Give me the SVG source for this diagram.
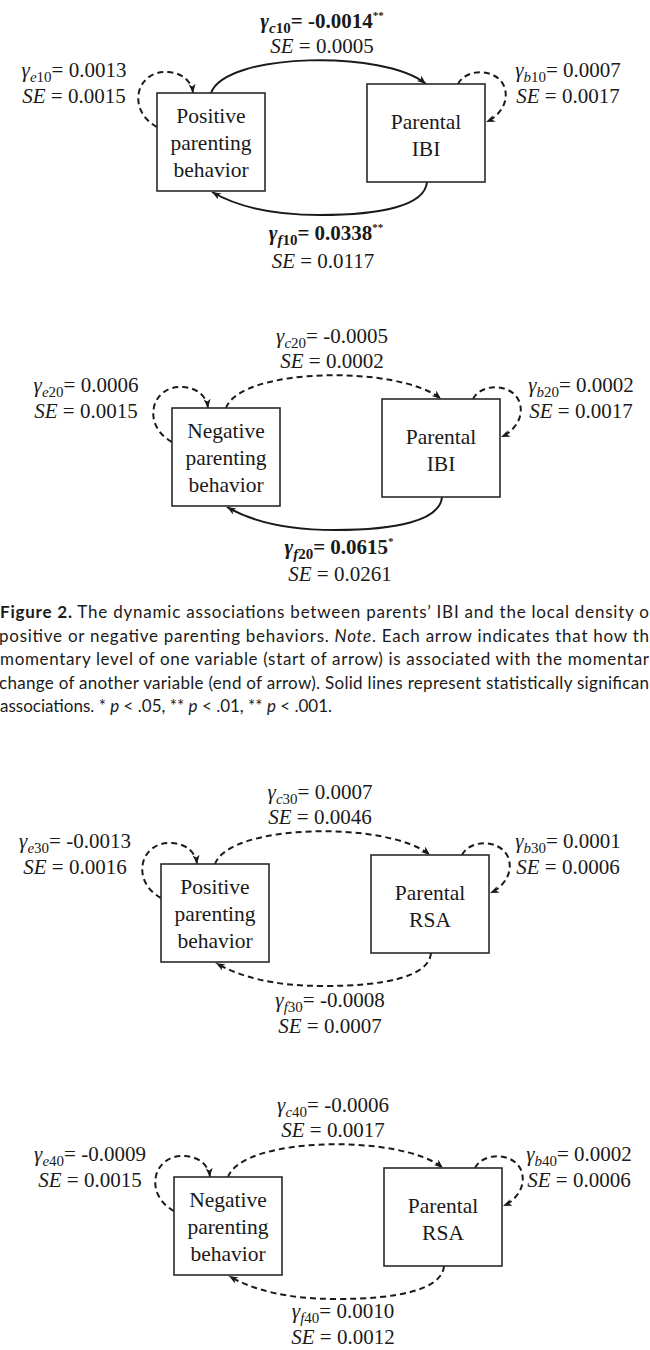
<svg xmlns="http://www.w3.org/2000/svg" width="650" height="1350" viewBox="0 0 650 1350">
<style>
.n{fill:#fff;stroke:#2a2a2a;stroke-width:1.6}
.t{font-family:"Liberation Serif","Times New Roman",serif;font-size:21px;fill:#1a1a1a;text-anchor:middle}
.bx{font-size:21.5px}
.it{font-style:italic}
.sub{font-size:15px}
.sup{font-size:11px}
.b{font-weight:bold}
.s{fill:none;stroke:#1a1a1a;stroke-width:2;marker-end:url(#ah)}
.d{stroke-dasharray:6 4}
.cap{font-family:Lato,"Noto Sans",sans-serif;font-size:17px;fill:#1a1a1a}
</style>
<defs>
<marker id="ah" markerUnits="userSpaceOnUse" markerWidth="10" markerHeight="8" refX="9" refY="3.5" orient="auto">
<path d="M0,0 L9,3.5 L0,7 L2.5,3.5 Z" fill="#1a1a1a"/>
</marker>
</defs>
<rect width="650" height="1350" fill="#fff"/>

<!-- Panel 1 -->
<g id="panel1">
<g id="p1-connectors">
<path class="s" d="M211,93 C226,52 385,50 426,84"/>
<path class="s" d="M427,182 C425,206 380,215 320,215 C270,215 236,206 212,192"/>
<path class="s d" d="M157,127 C126,110 136,70 168,72 C184,73 192,83 193,93"/>
<path class="s d" d="M458,84 C466,68 496,68 504,86 C510,101 500,116 486,122"/>
</g>
<g id="p1-positive">
<rect class="n" x="157" y="93" width="108" height="98"/>
<text class="t bx" x="211" y="123">Positive</text>
<text class="t bx" x="211" y="150">parenting</text>
<text class="t bx" x="211" y="177">behavior</text>
</g>
<g id="p1-ibi">
<rect class="n" x="367" y="84" width="118" height="98"/>
<text class="t bx" x="426" y="129">Parental</text>
<text class="t bx" x="426" y="156">IBI</text>
</g>
<g id="p1-labels">
<text class="t b" x="322" y="28"><tspan class="it">γ</tspan><tspan class="sub it" dy="5">c</tspan><tspan class="sub">10</tspan><tspan dy="-5">= -0.0014</tspan><tspan class="sup" dy="-9">**</tspan></text>
<text class="t" x="322" y="53"><tspan class="it">SE</tspan> = 0.0005</text>
<text class="t" x="74" y="77"><tspan class="it">γ</tspan><tspan class="sub it" dy="5">e</tspan><tspan class="sub">10</tspan><tspan dy="-5">= 0.0013</tspan></text>
<text class="t" x="74" y="103"><tspan class="it">SE</tspan> = 0.0015</text>
<text class="t" x="568" y="77"><tspan class="it">γ</tspan><tspan class="sub it" dy="5">b</tspan><tspan class="sub">10</tspan><tspan dy="-5">= 0.0007</tspan></text>
<text class="t" x="568" y="103"><tspan class="it">SE</tspan> = 0.0017</text>
<text class="t b" x="326" y="240"><tspan class="it">γ</tspan><tspan class="sub it" dy="5">f</tspan><tspan class="sub">10</tspan><tspan dy="-5">= 0.0338</tspan><tspan class="sup" dy="-9">**</tspan></text>
<text class="t" x="323" y="268"><tspan class="it">SE</tspan> = 0.0117</text>
</g>
</g>

<!-- Panel 2 -->
<g id="panel2" transform="translate(15,315)">
<g id="p2-connectors">
<path class="s d" d="M211,93 C226,52 385,50 426,84"/>
<path class="s" d="M427,182 C425,206 380,215 320,215 C270,215 236,206 212,192"/>
<path class="s d" d="M157,127 C126,110 136,70 168,72 C184,73 192,83 193,93"/>
<path class="s d" d="M458,84 C466,68 496,68 504,86 C510,101 500,116 486,122"/>
</g>
<g id="p2-negative">
<rect class="n" x="157" y="93" width="108" height="98"/>
<text class="t bx" x="211" y="123">Negative</text>
<text class="t bx" x="211" y="150">parenting</text>
<text class="t bx" x="211" y="177">behavior</text>
</g>
<g id="p2-ibi">
<rect class="n" x="367" y="84" width="118" height="98"/>
<text class="t bx" x="426" y="129">Parental</text>
<text class="t bx" x="426" y="156">IBI</text>
</g>
<g id="p2-labels">
<text class="t" x="317" y="28"><tspan class="it">γ</tspan><tspan class="sub it" dy="5">c</tspan><tspan class="sub">20</tspan><tspan dy="-5">= -0.0005</tspan></text>
<text class="t" x="317" y="53"><tspan class="it">SE</tspan> = 0.0002</text>
<text class="t" x="71" y="77"><tspan class="it">γ</tspan><tspan class="sub it" dy="5">e</tspan><tspan class="sub">20</tspan><tspan dy="-5">= 0.0006</tspan></text>
<text class="t" x="71" y="103"><tspan class="it">SE</tspan> = 0.0015</text>
<text class="t" x="566" y="77"><tspan class="it">γ</tspan><tspan class="sub it" dy="5">b</tspan><tspan class="sub">20</tspan><tspan dy="-5">= 0.0002</tspan></text>
<text class="t" x="566" y="103"><tspan class="it">SE</tspan> = 0.0017</text>
<text class="t b" x="324" y="239"><tspan class="it">γ</tspan><tspan class="sub it" dy="5">f</tspan><tspan class="sub">20</tspan><tspan dy="-5">= 0.0615</tspan><tspan class="sup" dy="-9">*</tspan></text>
<text class="t" x="325" y="266"><tspan class="it">SE</tspan> = 0.0261</text>
</g>
</g>

<!-- Caption -->
<g id="caption">
<text class="cap" x="0" y="618" textLength="649" lengthAdjust="spacing"><tspan font-weight="bold">Figure 2.</tspan> The dynamic associations between parents’ IBI and the local density o</text>
<text class="cap" x="-1" y="642" textLength="650" lengthAdjust="spacing">positive or negative parenting behaviors. <tspan font-style="italic">Note</tspan>. Each arrow indicates that how th</text>
<text class="cap" x="0" y="665" textLength="649" lengthAdjust="spacing">momentary level of one variable (start of arrow) is associated with the momentar</text>
<text class="cap" x="-1" y="689" textLength="650" lengthAdjust="spacing">change of another variable (end of arrow). Solid lines represent statistically significan</text>
<text class="cap" x="0" y="712">associations. * <tspan font-style="italic">p</tspan> &lt; .05, ** <tspan font-style="italic">p</tspan> &lt; .01, ** <tspan font-style="italic">p</tspan> &lt; .001.</text>
</g>

<!-- Panel 3 -->
<g id="panel3" transform="translate(4,771)">
<g id="p3-connectors">
<path class="s d" d="M211,93 C226,52 385,50 426,84"/>
<path class="s d" d="M427,182 C425,206 380,215 320,215 C270,215 236,206 212,192"/>
<path class="s d" d="M157,127 C126,110 136,70 168,72 C184,73 192,83 193,93"/>
<path class="s d" d="M458,84 C466,68 496,68 504,86 C510,101 500,116 486,122"/>
</g>
<g id="p3-positive">
<rect class="n" x="157" y="93" width="108" height="98"/>
<text class="t bx" x="211" y="123">Positive</text>
<text class="t bx" x="211" y="150">parenting</text>
<text class="t bx" x="211" y="177">behavior</text>
</g>
<g id="p3-rsa">
<rect class="n" x="367" y="84" width="118" height="98"/>
<text class="t bx" x="426" y="129">Parental</text>
<text class="t bx" x="426" y="156">RSA</text>
</g>
<g id="p3-labels">
<text class="t" x="316" y="28"><tspan class="it">γ</tspan><tspan class="sub it" dy="5">c</tspan><tspan class="sub">30</tspan><tspan dy="-5">= 0.0007</tspan></text>
<text class="t" x="316" y="53"><tspan class="it">SE</tspan> = 0.0046</text>
<text class="t" x="71" y="77"><tspan class="it">γ</tspan><tspan class="sub it" dy="5">e</tspan><tspan class="sub">30</tspan><tspan dy="-5">= -0.0013</tspan></text>
<text class="t" x="71" y="103"><tspan class="it">SE</tspan> = 0.0016</text>
<text class="t" x="564" y="77"><tspan class="it">γ</tspan><tspan class="sub it" dy="5">b</tspan><tspan class="sub">30</tspan><tspan dy="-5">= 0.0001</tspan></text>
<text class="t" x="564" y="103"><tspan class="it">SE</tspan> = 0.0006</text>
<text class="t" x="326" y="236"><tspan class="it">γ</tspan><tspan class="sub it" dy="5">f</tspan><tspan class="sub">30</tspan><tspan dy="-5">= -0.0008</tspan></text>
<text class="t" x="326" y="262"><tspan class="it">SE</tspan> = 0.0007</text>
</g>
</g>

<!-- Panel 4 -->
<g id="panel4" transform="translate(17,1084)">
<g id="p4-connectors">
<path class="s d" d="M211,93 C226,52 385,50 426,84"/>
<path class="s d" d="M427,182 C425,206 380,215 320,215 C270,215 236,206 212,192"/>
<path class="s d" d="M157,127 C126,110 136,70 168,72 C184,73 192,83 193,93"/>
<path class="s d" d="M458,84 C466,68 496,68 504,86 C510,101 500,116 486,122"/>
</g>
<g id="p4-negative">
<rect class="n" x="157" y="93" width="108" height="98"/>
<text class="t bx" x="211" y="123">Negative</text>
<text class="t bx" x="211" y="150">parenting</text>
<text class="t bx" x="211" y="177">behavior</text>
</g>
<g id="p4-rsa">
<rect class="n" x="367" y="84" width="118" height="98"/>
<text class="t bx" x="426" y="129">Parental</text>
<text class="t bx" x="426" y="156">RSA</text>
</g>
<g id="p4-labels">
<text class="t" x="316" y="28"><tspan class="it">γ</tspan><tspan class="sub it" dy="5">c</tspan><tspan class="sub">40</tspan><tspan dy="-5">= -0.0006</tspan></text>
<text class="t" x="316" y="53"><tspan class="it">SE</tspan> = 0.0017</text>
<text class="t" x="73" y="77"><tspan class="it">γ</tspan><tspan class="sub it" dy="5">e</tspan><tspan class="sub">40</tspan><tspan dy="-5">= -0.0009</tspan></text>
<text class="t" x="73" y="103"><tspan class="it">SE</tspan> = 0.0015</text>
<text class="t" x="562" y="77"><tspan class="it">γ</tspan><tspan class="sub it" dy="5">b</tspan><tspan class="sub">40</tspan><tspan dy="-5">= 0.0002</tspan></text>
<text class="t" x="562" y="103"><tspan class="it">SE</tspan> = 0.0006</text>
<text class="t" x="326" y="234"><tspan class="it">γ</tspan><tspan class="sub it" dy="5">f</tspan><tspan class="sub">40</tspan><tspan dy="-5">= 0.0010</tspan></text>
<text class="t" x="326" y="260"><tspan class="it">SE</tspan> = 0.0012</text>
</g>
</g>
</svg>
